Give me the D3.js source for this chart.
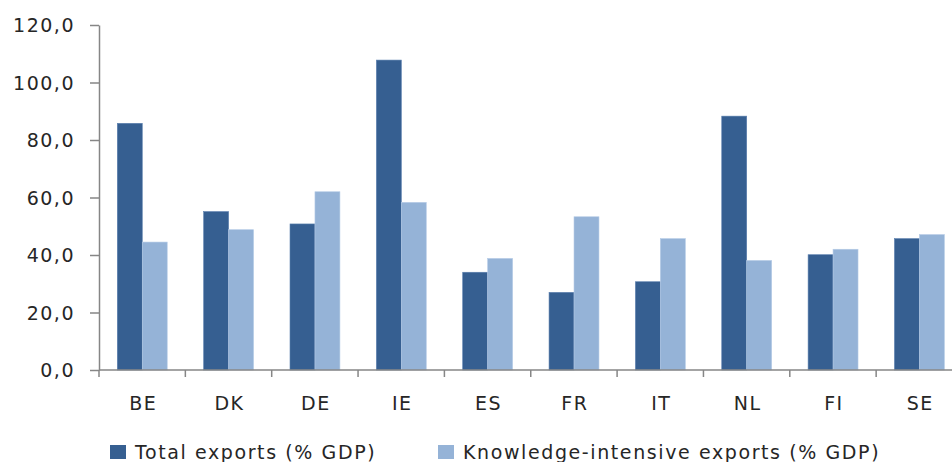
<!DOCTYPE html>
<html><head><meta charset="utf-8">
<script src="https://cdn.jsdelivr.net/npm/d3@7"></script>
<style>
html,body{margin:0;padding:0;background:#fff;overflow:hidden;}
text{font-family:"DejaVu Sans",Verdana,sans-serif;fill:#262626;}
</style></head>
<body><svg id="c" width="952" height="462"></svg>
<script>
const categories = ["BE","DK","DE","IE","ES","FR","IT","NL","FI","SE"];
const totalExports = [85.8,55.1,50.8,107.8,34.0,27.0,30.7,88.3,40.1,45.7];
const knowledgeExports = [44.5,48.8,62.0,58.3,38.8,53.3,45.7,38.1,42.0,47.1];
const seriesNames = ["Total exports (% GDP)","Knowledge-intensive exports (% GDP)"];
const yTicks = [0,20,40,60,80,100,120];

(function(){
const svg = d3.select("#c");
const mLeft = 99, mRight = 962.5, mTop = 25, mBottom = 370;
const colors = ["#365F91","#95B3D7"];

const x0 = d3.scaleBand().domain(categories).range([mLeft,mRight]).padding(0);
const x1 = d3.scaleBand().domain([0,1]).range([x0.bandwidth()*0.212, x0.bandwidth()*0.79]).padding(0);
const y = d3.scaleLinear().domain([0,120]).range([mBottom,mTop]);

const fmt = v => d3.format(".1f")(v).replace(".",",");
const axisColor = "#868686";
const fs = "19px", ls = "1.5px";

const series = [totalExports, knowledgeExports];
const g = svg.append("g");
categories.forEach((c,i)=>{
  series.forEach((s,j)=>{
    g.append("rect")
      .attr("x", x0(c)+x1(j))
      .attr("y", y(s[i]))
      .attr("width", x1.bandwidth())
      .attr("height", y(0)-y(s[i]))
      .attr("fill", colors[j])
      .attr("stroke", j===0 ? "#5a7fae" : "#b5cbe6")
      .attr("stroke-width", 0.6);
  });
});

const yAxis = d3.axisLeft(y).tickValues(yTicks).tickFormat(fmt).tickSize(9).tickSizeOuter(0);
const ya = svg.append("g").attr("transform",`translate(${mLeft},0)`).call(yAxis);
ya.attr("font-family",null).attr("font-size",null);
ya.select(".domain").attr("stroke",axisColor).attr("stroke-width",1.5);
ya.selectAll(".tick line").attr("stroke",axisColor).attr("stroke-width",1.5);
ya.selectAll(".tick text").attr("x",-24).attr("dy","0.36em").style("font-size",fs).style("letter-spacing",ls)
  .attr("fill","#262626");

const xa = svg.append("g").attr("transform",`translate(0,${mBottom})`);
xa.append("line").attr("x1",mLeft).attr("x2",mRight).attr("y1",0).attr("y2",0)
  .attr("stroke",axisColor).attr("stroke-width",1.5);
categories.forEach((c,i)=>{
  xa.append("line").attr("x1",x0(c)).attr("x2",x0(c)).attr("y1",0).attr("y2",7)
    .attr("stroke",axisColor).attr("stroke-width",1.5);
  xa.append("text").attr("x",x0(c)+x0.bandwidth()/2+1).attr("y",40)
    .attr("text-anchor","middle").style("font-size",fs).style("letter-spacing",ls)
    .text(c);
});

const legendX = [110, 438];
seriesNames.forEach((n,j)=>{
  svg.append("rect").attr("x",legendX[j]).attr("y",445).attr("width",16).attr("height",14).attr("fill",colors[j]);
  svg.append("text").attr("x",legendX[j]+25).attr("y",459).style("font-size",fs).style("letter-spacing","1.6px").text(n);
});
})();
</script></body></html>
